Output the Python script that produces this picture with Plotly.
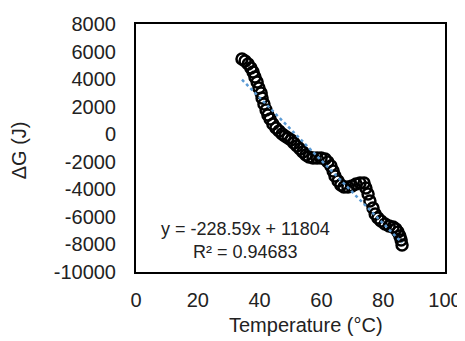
import plotly.graph_objects as go

# Data
temperature_c = [34.3, 35.3, 36.3, 37.2, 37.9, 38.5, 39.2, 39.8, 40.5, 40.8,
                 41.4, 42.1, 42.7, 43.4, 44.3, 45.3, 46.3, 47.3, 48.2, 49.2,
                 50.2, 51.1, 52.1, 53.1, 54.0, 55.0, 56.0, 57.3, 58.6, 59.9,
                 61.2, 62.1, 63.1, 63.8, 64.4, 65.4, 66.3, 67.3, 68.6, 69.9,
                 71.2, 72.5, 73.8, 74.4, 75.1, 75.7, 76.7, 77.4, 78.3, 79.3,
                 80.6, 81.9, 83.2, 84.1, 84.8, 85.4, 85.8, 86.1]
delta_g_j = [5460, 5315, 5097, 4806, 4516, 4153, 3790, 3355, 2992, 2629,
             2194, 1758, 1395, 1105, 742, 452, 234, 16, -129, -274,
             -419, -637, -855, -1073, -1290, -1508, -1653, -1726, -1726, -1726,
             -1798, -2016, -2306, -2669, -3032, -3395, -3685, -3830, -3830, -3758,
             -3613, -3540, -3540, -3903, -4339, -4847, -5355, -5790, -6081, -6298,
             -6516, -6661, -6734, -6879, -7097, -7387, -7677, -8040]

trend_slope = -228.59
trend_intercept = 11804
trend_r2 = 0.94683

x_ticks = [0, 20, 40, 60, 80, 100]
x_tick_labels = ["0", "20", "40", "60", "80", "100"]
y_ticks = [8000, 6000, 4000, 2000, 0, -2000, -4000, -6000, -8000, -10000]
y_tick_labels = ["8000", "6000", "4000", "2000", "0", "-2000", "-4000",
                 "-6000", "-8000", "-10000"]

FONT = "Arial, Liberation Sans, sans-serif"
TXT = "#222222"

trend_x = [min(temperature_c), max(temperature_c)]
trend_y = [trend_slope * v + trend_intercept for v in trend_x]

fig = go.Figure()
fig.add_trace(go.Scatter(
    x=temperature_c, y=delta_g_j, mode="markers",
    marker=dict(symbol="circle-open", size=11, color="black",
                line=dict(width=2.5, color="black")),
    showlegend=False, hoverinfo="skip"))
fig.add_trace(go.Scatter(
    x=trend_x, y=trend_y, mode="lines",
    line=dict(color="#5B9BD5", width=2.5, dash="dot"),
    showlegend=False, hoverinfo="skip"))

# The page adds an 8px offset, so the figure is 8px smaller and shifted
fig.update_layout(
    width=457, height=333,
    margin=dict(l=128, r=20, t=16, b=69, autoexpand=False),
    paper_bgcolor="white", plot_bgcolor="white",
    font=dict(family=FONT, size=20, color=TXT),
    xaxis=dict(range=[0, 100], tickvals=x_ticks, ticktext=x_tick_labels,
               showgrid=False, zeroline=False, automargin=False,
               showline=True, mirror=True, linecolor="black", linewidth=2,
               ticks="outside", ticklen=9, tickcolor="rgba(0,0,0,0)",
               tickfont=dict(family=FONT, size=20, color=TXT)),
    yaxis=dict(range=[-10000, 8000], tickvals=y_ticks, ticktext=y_tick_labels,
               showgrid=False, zeroline=False, automargin=False,
               showline=True, mirror=True, linecolor="black", linewidth=2,
               ticks="outside", ticklen=14, tickcolor="rgba(0,0,0,0)",
               tickfont=dict(family=FONT, size=20, color=TXT)),
    annotations=[
        dict(text="Temperature (°C)", xref="paper", yref="paper", x=0.55, y=-0.214,
             xanchor="center", yanchor="middle", showarrow=False,
             font=dict(family=FONT, size=20, color=TXT)),
        dict(text="ΔG (J)", xref="paper", yref="paper", x=-0.376, y=0.49,
             xanchor="center", yanchor="middle", showarrow=False, textangle=-90,
             font=dict(family=FONT, size=20, color=TXT)),
        dict(text=f"y = {trend_slope}x + {trend_intercept}", xref="x", yref="y",
             x=35.3, y=-6879, xanchor="center", yanchor="middle", showarrow=False,
             font=dict(family=FONT, size=18, color=TXT)),
        dict(text=f"R² = {trend_r2}", xref="x", yref="y",
             x=35.3, y=-8548, xanchor="center", yanchor="middle", showarrow=False,
             font=dict(family=FONT, size=18, color=TXT)),
    ],
)

fig.write_html("out.html")
